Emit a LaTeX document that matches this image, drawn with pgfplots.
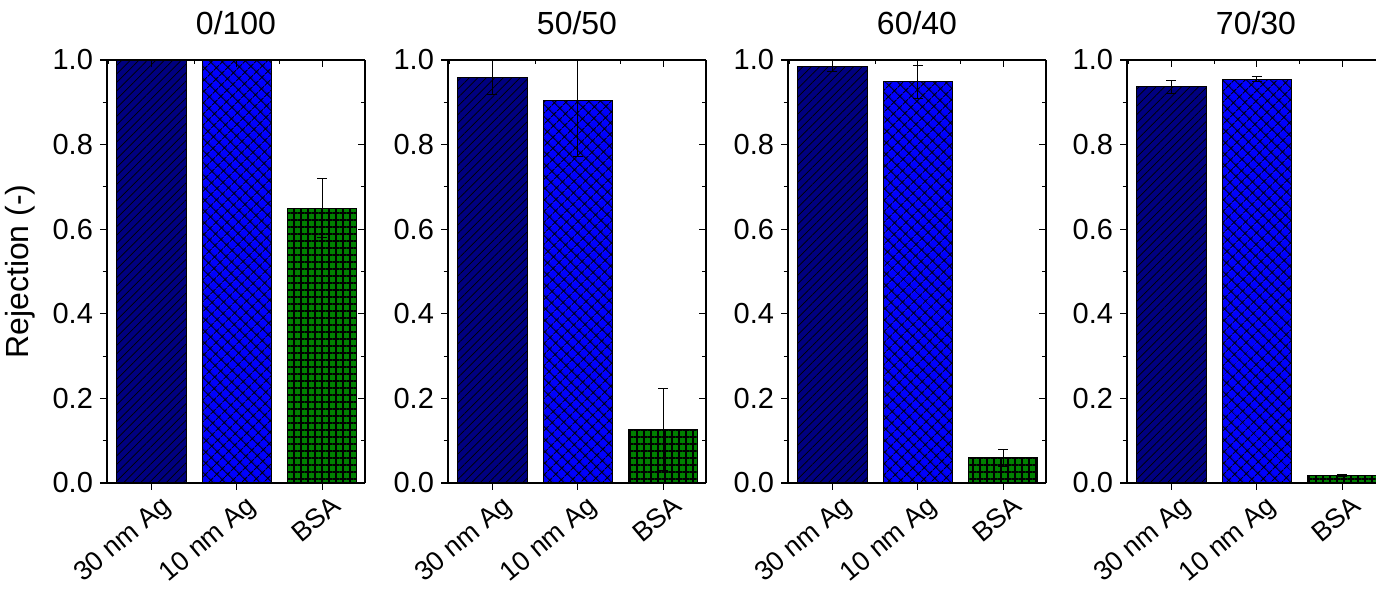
\documentclass[border=0pt]{standalone}
\usepackage{fontspec}
\setmainfont{Liberation Sans}
\usepackage{pgfplots}
\pgfplotsset{compat=1.18}
\usetikzlibrary{patterns.meta}

\definecolor{agnavy}{RGB}{0,0,128}
\definecolor{agblue}{RGB}{0,0,255}
\definecolor{bsagreen}{RGB}{0,128,0}

\pgfplotsset{
  panel/.style={
    scale only axis, width=129pt, height=211.5pt, anchor=south west,
    xmin=-0.52, xmax=2.5, ymin=0, ymax=1,
    xtick={0,1,2}, ytick={0,0.2,...,1.0}, minor ytick={0.1,0.3,...,0.9},
    axis line style={line width=0.7pt},
    major tick length=3.5pt, minor tick length=2.2pt,
    every tick/.style={black, line width=0.6pt},
    every minor tick/.style={black, line width=0.5pt},
    /pgf/number format/assume math mode=true,
    yticklabel style={/pgf/number format/fixed, /pgf/number format/fixed zerofill,
      /pgf/number format/precision=1, font=\fontsize{14.5}{17}\selectfont},
  },
  lower/.style={panel,
    axis x line*=bottom, axis y line*=left, tick align=outside,
    xticklabels={30 nm Ag,10 nm Ag,BSA},
    x tick label style={font=\fontsize{13.5}{16}\selectfont, rotate=40,
      anchor=north east, inner sep=1pt, yshift=-3pt, xshift=3pt},
    title style={font=\fontsize{16}{19}\selectfont, yshift=3pt},
  },
  upper/.style={panel,
    axis x line*=top, axis y line*=right, tick align=inside,
    minor xtick={-0.5,0.5,1.5},
    xticklabels={}, yticklabels={},
  },
  barbase/.style={ybar, bar shift=0pt, bar width=0.81, draw=black, line width=0.5pt,
    error bars/y dir=both, error bars/y explicit,
    error bars/error bar style={line width=0.45pt, black},
    error bars/error mark options={rotate=90, mark size=2.5pt, line width=0.45pt, black}},
  bar30/.style={barbase, fill=agnavy,
    postaction={pattern={Lines[angle=45, distance=3pt, line width=0.35pt]}, pattern color=black}},
  bar10/.style={barbase, fill=agblue,
    postaction={pattern={Hatch[angle=45, distance=4pt, line width=0.5pt]}, pattern color=black}},
  barbsa/.style={barbase, fill=bsagreen,
    postaction={pattern={Hatch[angle=0, distance=3.5pt, line width=0.6pt]}, pattern color=black}},
}

\begin{document}
\begin{tikzpicture}
\useasboundingbox (0,0) rectangle (688pt,299pt);
\clip (0,0) rectangle (688pt,299pt);

% 0/100
\begin{axis}[lower, at={(53.5pt,57.5pt)}, title={0/100}, ylabel={Rejection (-)},
  ylabel style={font=\fontsize{16}{19}\selectfont, at={(axis description cs:-0.335,0.5)}, anchor=center}]
\addplot[bar30] coordinates {(0,1.0) +- (0,0)};
\addplot[bar10] coordinates {(1,1.0) +- (0,0)};
\addplot[barbsa] coordinates {(2,0.65) +- (0,0.07)};
\end{axis}
\begin{axis}[upper, at={(53.5pt,57.5pt)}]
\end{axis}

% 50/50
\begin{axis}[lower, at={(224pt,57.5pt)}, title={50/50}]
\addplot[bar30] coordinates {(0,0.958) +- (0,0.04)};
\addplot[bar10] coordinates {(1,0.904) +- (0,0.133)};
\addplot[barbsa] coordinates {(2,0.127) +- (0,0.097)};
\end{axis}
\begin{axis}[upper, at={(224pt,57.5pt)}]
\end{axis}

% 60/40
\begin{axis}[lower, at={(394pt,57.5pt)}, title={60/40}]
\addplot[bar30] coordinates {(0,0.985) +- (0,0.013)};
\addplot[bar10] coordinates {(1,0.948) +- (0,0.04)};
\addplot[barbsa] coordinates {(2,0.06) +- (0,0.02)};
\end{axis}
\begin{axis}[upper, at={(394pt,57.5pt)}]
\end{axis}

% 70/30
\begin{axis}[lower, at={(563.5pt,57.5pt)}, title={70/30}]
\addplot[bar30] coordinates {(0,0.937) +- (0,0.015)};
\addplot[bar10] coordinates {(1,0.955) +- (0,0.005)};
\addplot[barbsa] coordinates {(2,0.018) +- (0,0.003)};
\end{axis}
\begin{axis}[upper, at={(563.5pt,57.5pt)}]
\end{axis}
\end{tikzpicture}
\end{document}
